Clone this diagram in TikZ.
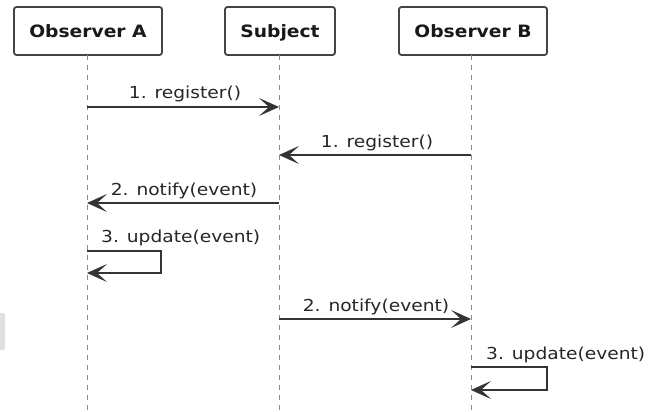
\documentclass[tikz,border=0pt]{standalone}
\usepackage{fontspec}
\setmainfont{DejaVu Sans}
\newfontfamily\msgfont[FakeStretch=1.13]{DejaVu Sans}
\newfontfamily\headfont[FakeStretch=1.1]{DejaVu Sans Bold}
\usetikzlibrary{arrows.meta}
\definecolor{ink}{HTML}{333333}
\definecolor{boxline}{HTML}{444444}
\definecolor{lifegray}{HTML}{8A8A8A}
\tikzset{
  x=1pt, y=-1pt,
  participant/.style={draw=boxline, line width=1.8pt, fill=white, rounded corners=2.5pt,
    minimum height=48pt, inner sep=0pt, text height=12.5pt, text depth=0pt,
    font=\headfont\fontsize{17}{20}\selectfont, text=black!90},
  lifeline/.style={draw=lifegray, line width=0.9pt, dash pattern=on 5pt off 5pt},
  msg/.style={draw=ink, line width=1.4pt, -{Stealth[length=20pt,width=18pt,inset=10pt]}},
  msglabel/.style={font=\msgfont\fontsize{16.5}{19}\selectfont, text=black!85, inner sep=0pt, anchor=base}
}
\begin{document}
\begin{tikzpicture}
\useasboundingbox (0,0) rectangle (649,412);
% faint mark at the left margin
\fill[black!12, rounded corners=2pt] (-4,313) rectangle (5,350);

% participants
\node[participant, minimum width=148pt] (oa) at (88,31) {Observer A};
\node[participant, minimum width=110pt] (sj) at (280,31) {Subject};
\node[participant, minimum width=148pt] (ob) at (473,31) {Observer B};

% lifelines
\coordinate (oaend) at (87,412);
\coordinate (sjend) at (279,412);
\coordinate (obend) at (471,412);
\draw[lifeline] (87,55) -- (oaend);
\draw[lifeline] (279,55) -- (sjend);
\draw[lifeline] (471,55) -- (obend);

% message anchors on the lifelines
\coordinate (a1) at (87,107);  \coordinate (s1) at (279,107);
\coordinate (b2) at (471,155); \coordinate (s2) at (279,155);
\coordinate (s3) at (279,203); \coordinate (a3) at (87,203);
\coordinate (a4) at (87,251);  \coordinate (a4r) at (161,251);
\coordinate (a4b) at (161,273); \coordinate (a4e) at (87,273);
\coordinate (s5) at (279,319); \coordinate (b5) at (471,319);
\coordinate (b6) at (471,367); \coordinate (b6r) at (547,367);
\coordinate (b6b) at (547,390); \coordinate (b6e) at (471,390);

% messages
\draw[msg] (a1) -- (s1);
\node[msglabel] (l1) at (185,99) {1. register()};

\draw[msg] (b2) -- (s2);
\node[msglabel] (l2) at (377,147) {1. register()};

\draw[msg] (s3) -- (a3);
\node[msglabel] (l3) at (184,195) {2. notify(event)};

\draw[msg] (a4) -- (a4r) -- (a4b) -- (a4e);
\node[msglabel, anchor=base west] (l4) at (101,242) {3. update(event)};

\draw[msg] (s5) -- (b5);
\node[msglabel] (l5) at (376,311) {2. notify(event)};

\draw[msg] (b6) -- (b6r) -- (b6b) -- (b6e);
\node[msglabel, anchor=base west] (l6) at (486,359) {3. update(event)};
\end{tikzpicture}
\end{document}
